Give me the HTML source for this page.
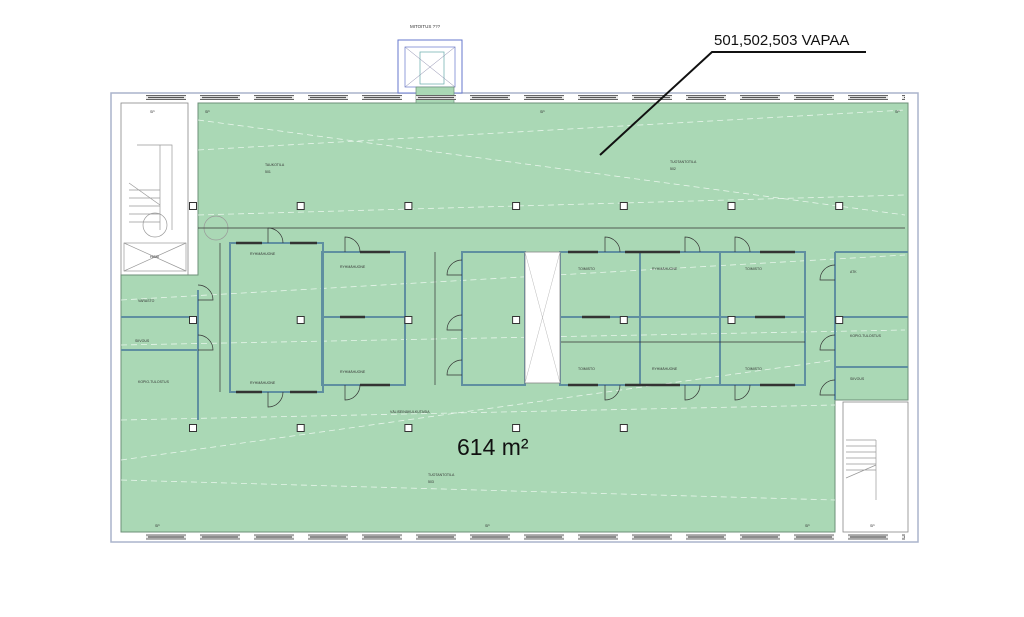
<!DOCTYPE html>
<html><head><meta charset="utf-8"><style>
html,body{margin:0;padding:0;background:#fff;}
svg{display:block;font-family:"Liberation Sans",sans-serif;}
</style></head><body>
<svg width="1024" height="617" viewBox="0 0 1024 617" xmlns="http://www.w3.org/2000/svg">
<rect x="111" y="93" width="807" height="449" fill="#fff" stroke="#aab4cc" stroke-width="1.5"/>
<rect x="121" y="103" width="67" height="172" fill="#fff" stroke="#888" stroke-width="0.8"/>
<path d="M198 103 H908 V400 H835 V532 H121 V275 H198 Z" fill="#aad8b5" stroke="#6c8f78" stroke-width="1"/>
<rect x="843" y="402" width="65" height="130" fill="#fff" stroke="#888" stroke-width="0.8"/>
<g stroke="#999" stroke-width="0.7" fill="none">
<path d="M846 440 H876 M846 446 H876 M846 452 H876 M846 458 H876 M846 464 H876 M846 470 H876 M876 440 V500 M846 478 L876 465"/>
<path d="M129 190 H160 M129 198 H160 M129 206 H160 M129 214 H160 M129 222 H160 M160 145 V230 M137 145 H172 V230 M129 183 L160 205"/>
<rect x="124" y="243" width="62" height="28"/><path d="M124 243 L186 271 M186 243 L124 271"/>
<circle cx="155" cy="225" r="12"/><circle cx="216" cy="228" r="12"/>
</g>
<text x="150" y="258" font-size="3.5" fill="#333">HISSI</text>
<rect x="398" y="40" width="64" height="53" fill="#fff" stroke="#6677cc" stroke-width="1"/>
<rect x="405" y="47" width="50" height="40" fill="none" stroke="#6677cc" stroke-width="0.7"/>
<rect x="420" y="52" width="24" height="32" fill="none" stroke="#66aaaa" stroke-width="0.7"/>
<path d="M405 47 L455 87 M455 47 L405 87" stroke="#88a" stroke-width="0.5"/>
<rect x="416" y="87" width="38" height="16" fill="#aad8b5" stroke="#6c8f78" stroke-width="0.7"/>
<text x="410" y="28" font-size="4.5" fill="#333">MITOITUS ???</text>
<!-- windows -->
<line x1="146" y1="97.5" x2="905" y2="97.5" stroke="#666" stroke-width="5" stroke-dasharray="40 14"/>
<line x1="146" y1="97.5" x2="905" y2="97.5" stroke="#e8e8e8" stroke-width="3" stroke-dasharray="40 14"/>
<line x1="148" y1="97.5" x2="905" y2="97.5" stroke="#555" stroke-width="1.2" stroke-dasharray="36 18"/>
<line x1="146" y1="537" x2="905" y2="537" stroke="#666" stroke-width="5" stroke-dasharray="40 14"/>
<line x1="146" y1="537" x2="905" y2="537" stroke="#e8e8e8" stroke-width="3" stroke-dasharray="40 14"/>
<line x1="148" y1="537" x2="905" y2="537" stroke="#555" stroke-width="1.2" stroke-dasharray="36 18"/>
<g stroke="#e6f5ea" stroke-width="0.8" stroke-dasharray="6 4" fill="none">
<path d="M198 150 L905 110 M198 215 L905 195 M121 300 L905 255 M121 345 L905 330 M121 420 L835 405 M121 460 L835 360 M121 480 L835 500 M198 120 L905 215"/>
</g>
<line x1="198" y1="228" x2="905" y2="228" stroke="#333" stroke-width="0.8"/>
<line x1="220" y1="243" x2="220" y2="392" stroke="#333" stroke-width="0.7"/>
<line x1="435" y1="252" x2="435" y2="385" stroke="#333" stroke-width="0.7"/>
<g fill="none" stroke="#5f8fa0" stroke-width="2">
<rect x="230" y="243" width="93" height="149"/>
<rect x="322" y="252" width="83" height="133"/><line x1="322" y1="317" x2="405" y2="317"/>
<rect x="462" y="252" width="63" height="133"/>
<rect x="560" y="252" width="245" height="133"/>
<line x1="640" y1="252" x2="640" y2="385"/><line x1="720" y1="252" x2="720" y2="385"/>
<line x1="560" y1="317" x2="805" y2="317"/>
<path d="M835 252 H908 M835 252 V400 M835 317 H908 M835 367 H908"/>
<path d="M121 317 H198 M121 350 H198 M198 290 V420"/>
</g>
<!-- dark wall segments -->
<g stroke="#333" stroke-width="2.5">
<path d="M236 243 H262 M290 243 H317 M236 392 H262 M290 392 H317 M360 252 H390 M360 385 H390 M340 317 H365"/>
<path d="M568 252 H598 M625 252 H680 M760 252 H795 M568 385 H598 M625 385 H680 M760 385 H795 M582 317 H610 M755 317 H785"/>
</g>
<rect x="525" y="252" width="35" height="131" fill="#fff" stroke="#888" stroke-width="0.8"/>
<path d="M525 252 L560 383 M560 252 L525 383" stroke="#bbb" stroke-width="0.5"/>
<line x1="561" y1="342" x2="805" y2="342" stroke="#333" stroke-width="0.7"/>
<g fill="none" stroke="#333" stroke-width="0.7">
<path d="M268 243 V228 A15 15 0 0 1 283 243"/><path d="M268 392 V407 A15 15 0 0 0 283 392"/>
<path d="M345 252 V237 A15 15 0 0 1 360 252"/><path d="M345 385 V400 A15 15 0 0 0 360 385"/>
<path d="M605 252 V237 A15 15 0 0 1 620 252"/><path d="M605 385 V400 A15 15 0 0 0 620 385"/>
<path d="M685 252 V237 A15 15 0 0 1 700 252"/><path d="M685 385 V400 A15 15 0 0 0 700 385"/>
<path d="M735 252 V237 A15 15 0 0 1 750 252"/><path d="M735 385 V400 A15 15 0 0 0 750 385"/>
<path d="M835 280 H820 A15 15 0 0 1 835 265"/><path d="M835 350 H820 A15 15 0 0 1 835 335"/><path d="M835 395 H820 A15 15 0 0 1 835 380"/>
<path d="M198 300 H213 A15 15 0 0 0 198 285"/><path d="M198 350 H213 A15 15 0 0 0 198 335"/>
<path d="M462 275 H447 A15 15 0 0 1 462 260"/><path d="M462 330 H447 A15 15 0 0 1 462 315"/><path d="M462 375 H447 A15 15 0 0 1 462 360"/>
</g>
<g>
<line x1="189" y1="206" x2="850" y2="206" stroke="#333" stroke-width="8" stroke-dasharray="8 99.7"/>
<line x1="190" y1="206" x2="850" y2="206" stroke="#fff" stroke-width="6" stroke-dasharray="6 101.7"/>
<line x1="189" y1="320" x2="850" y2="320" stroke="#333" stroke-width="8" stroke-dasharray="8 99.7"/>
<line x1="190" y1="320" x2="850" y2="320" stroke="#fff" stroke-width="6" stroke-dasharray="6 101.7"/>
<line x1="189" y1="428" x2="640" y2="428" stroke="#333" stroke-width="8" stroke-dasharray="8 99.7"/>
<line x1="190" y1="428" x2="640" y2="428" stroke="#fff" stroke-width="6" stroke-dasharray="6 101.7"/>
</g>
<g font-size="3.5" fill="#333">
<text x="265" y="166">TAUKOTILA</text><text x="265" y="173">501</text>
<text x="670" y="163">TUOTANTOTILA</text><text x="670" y="170">502</text>
<text x="428" y="476">TUOTANTOTILA</text><text x="428" y="483">503</text>
<text x="390" y="413">VÄLISEINÄKULKUTASIA</text>
<text x="250" y="255">RYHMÄHUONE</text><text x="340" y="268">RYHMÄHUONE</text>
<text x="340" y="373">RYHMÄHUONE</text><text x="250" y="384">RYHMÄHUONE</text>
<text x="578" y="270">TOIMISTO</text><text x="652" y="270">RYHMÄHUONE</text><text x="745" y="270">TOIMISTO</text>
<text x="578" y="370">TOIMISTO</text><text x="652" y="370">RYHMÄHUONE</text><text x="745" y="370">TOIMISTO</text>
<text x="850" y="273">ATK</text><text x="850" y="337">KOPIO-TULOSTUS</text><text x="850" y="380">SIIVOUS</text>
<text x="138" y="302">VARASTO</text><text x="135" y="342">SIIVOUS</text><text x="138" y="383">KOPIO-TULOSTUS</text>
<text x="150" y="113">SP</text><text x="205" y="113">SP</text><text x="540" y="113">SP</text><text x="895" y="113">SP</text>
<text x="155" y="527">SP</text><text x="485" y="527">SP</text><text x="805" y="527">SP</text><text x="870" y="527">SP</text>
</g>
<path d="M600 155 L712 52 H866" fill="none" stroke="#111" stroke-width="2"/>
<text x="714" y="45" font-size="15" fill="#111">501,502,503 VAPAA</text>
<text x="457" y="455" font-size="23" fill="#111">614 m²</text>
</svg>
</body></html>
